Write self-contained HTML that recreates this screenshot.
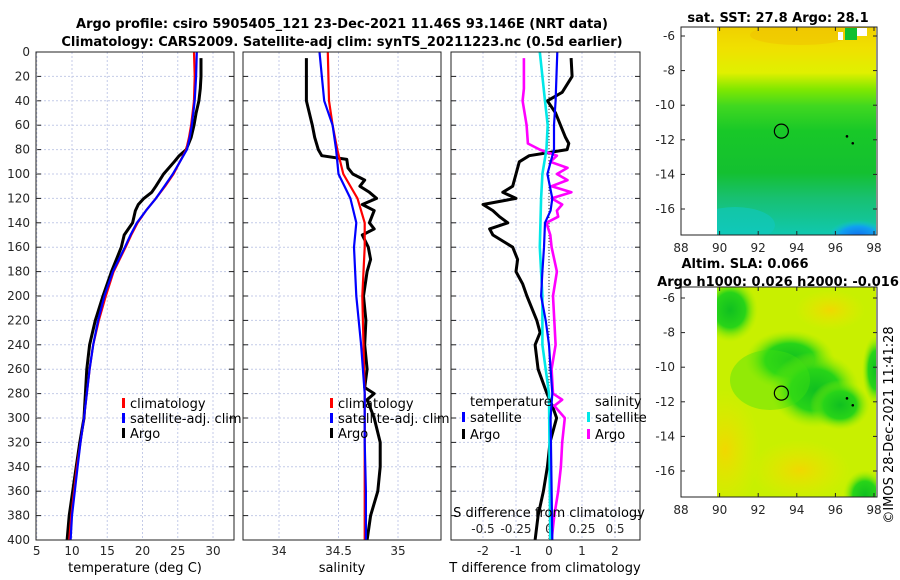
<!DOCTYPE html>
<html><head><meta charset="utf-8"><style>
html,body{margin:0;padding:0;background:#fff;}
svg{display:block;font-family:"DejaVu Sans","Liberation Sans",sans-serif;}
.tk{font-size:12px;fill:#262626;}
.ttl{font-size:13px;font-weight:bold;fill:#000;}
.lg{font-size:13px;fill:#000;}
</style></head><body>
<svg id="fig" width="900" height="580" viewBox="0 0 900 580">
<defs>
<clipPath id="clip1"><rect x="717" y="27" width="159" height="208"/></clipPath>
<clipPath id="clip2"><rect x="717" y="287" width="159" height="210"/></clipPath>
<linearGradient id="sstg" x1="0" y1="0" x2="0" y2="1">
<stop offset="0" stop-color="#f0d000"/><stop offset="0.1" stop-color="#f0e000"/><stop offset="0.22" stop-color="#e0f000"/>
<stop offset="0.3" stop-color="#80e800"/><stop offset="0.38" stop-color="#40d820"/><stop offset="0.5" stop-color="#18c828"/>
<stop offset="0.7" stop-color="#14c030"/><stop offset="0.82" stop-color="#18c070"/><stop offset="1" stop-color="#10c8b0"/>
</linearGradient>
<radialGradient id="blueb" cx="0.5" cy="0.5" r="0.5"><stop offset="0" stop-color="#1070f0"/><stop offset="0.6" stop-color="#10a0f0"/><stop offset="1" stop-color="#10c8d0" stop-opacity="0"/></radialGradient>
<radialGradient id="grb" cx="0.5" cy="0.5" r="0.5"><stop offset="0" stop-color="#10c020"/><stop offset="0.55" stop-color="#28d418"/><stop offset="1" stop-color="#a0ee00" stop-opacity="0"/></radialGradient>
<radialGradient id="orb" cx="0.5" cy="0.5" r="0.5"><stop offset="0" stop-color="#f0d800"/><stop offset="1" stop-color="#e8e800" stop-opacity="0"/></radialGradient>
</defs>
<g id="profiles"></g>
<g id="maps"></g>
</svg>
<script>
// ---- data ----
const tDepth=[0,20,40,50,60,70,80,90,100,110,120,130,140,150,160,180,200,220,240,260,280,300,320,340,360,380,400];
const climT=[27.3,27.4,27.3,27.1,26.9,26.6,26.2,25.3,24.4,23.2,21.9,20.5,19.3,18.4,17.6,15.9,14.8,13.8,13.0,12.5,12.1,11.7,11.2,10.7,10.3,9.9,9.6];
const satT=[27.7,27.6,27.4,27.2,27.0,26.7,26.3,25.3,24.3,23.1,21.9,20.5,19.2,18.3,17.5,15.8,14.6,13.7,13.0,12.5,12.1,11.7,11.2,10.8,10.4,10.0,9.8];
const argoTDepth=[5,20,30,40,50,60,70,80,85,90,100,110,115,120,125,130,140,145,150,160,170,180,200,220,240,260,280,300,320,340,360,380,400];
const argoT=[28.3,28.3,28.2,28.0,27.6,27.3,26.9,26.2,25.2,24.5,23.0,21.9,21.3,20.2,19.4,19.0,18.6,18.0,17.4,17.0,16.3,15.6,14.4,13.3,12.5,12.1,11.9,11.7,11.1,10.6,10.1,9.6,9.3];
const sDepth=[0,40,60,80,100,120,140,160,200,240,280,320,360,400];
const climS=[34.41,34.42,34.45,34.49,34.54,34.66,34.72,34.72,34.70,34.71,34.72,34.72,34.72,34.72];
const satS=[34.34,34.38,34.45,34.48,34.50,34.60,34.65,34.63,34.65,34.69,34.72,34.72,34.73,34.73];
const argoSDepth=[5,40,60,70,80,85,88,95,100,105,110,115,120,125,130,140,145,150,160,170,180,200,220,240,260,275,280,285,300,320,340,360,380,400];
const argoS=[34.23,34.23,34.28,34.30,34.33,34.36,34.57,34.58,34.62,34.72,34.68,34.76,34.82,34.70,34.80,34.76,34.80,34.70,34.75,34.77,34.74,34.71,34.73,34.72,34.74,34.72,34.80,34.74,34.80,34.85,34.85,34.83,34.77,34.74];
const dtArgoDepth=[5,20,33,40,50,60,70,75,80,85,90,100,110,115,120,125,130,135,140,145,150,160,170,180,190,200,220,230,240,260,280,290,300,320,340,360,380,400];
const dtArgo=[0.67,0.7,0.4,-0.05,0.2,0.35,0.5,0.6,0.55,-0.6,-0.9,-1.0,-1.1,-1.4,-1.0,-2.0,-1.7,-1.5,-1.25,-1.8,-1.7,-1.1,-0.95,-1.0,-0.8,-0.67,-0.37,-0.27,-0.42,-0.33,-0.06,0.1,0.23,0.03,-0.05,-0.17,-0.33,-0.42];
const dtSatDepth=[0,40,60,80,100,120,130,140,160,180,200,220,240,260,280,300,400];
const dtSat=[0.25,0.2,0.15,0.15,-0.05,0.1,0.05,-0.12,-0.15,-0.2,-0.24,-0.1,0,0.05,0.1,0.05,0.1];
const dsSatDepth=[0,40,60,80,100,120,160,200,240,280,400];
const dsSat=[-0.07,-0.03,-0.01,-0.02,-0.05,-0.06,-0.07,-0.05,-0.05,0,0.01];
const dsArgoDepth=[5,30,40,60,75,80,85,90,95,100,105,110,115,120,125,130,135,140,150,160,180,200,220,240,260,280,285,290,300,320,340,360,380,400];
const dsArgo=[-0.19,-0.19,-0.2,-0.17,-0.16,-0.07,0.06,0.01,0.14,0.06,0.14,0.02,0.17,0.02,0.1,0.06,0.07,-0.02,0.01,0.02,0.06,0.03,0.04,0.05,0.02,0.03,0.1,0.04,0.12,0.1,0.09,0.07,0.04,0.02];
const depthTicks=[0,20,40,60,80,100,120,140,160,180,200,220,240,260,280,300,320,340,360,380,400];
const tTicks=[5,10,15,20,25,30];
const sTicks=[34,34.5,35];
const dtTicks=[-2,-1,0,1,2];
const dsTicks=[-0.5,-0.25,0,0.25,0.5];
const dsTickLabels=["-0.5","-0.25","0","0.25","0.5"];
const latTicks=[-6,-8,-10,-12,-14,-16];
const lonTicks=[88,90,92,94,96,98];
const argoLon=93.2, argoLat=-11.5;
const dotLon=[96.6,96.9], dotLat=[-11.8,-12.2];

// ---- axes ----
const yD=d=>52+d*488/400;
const xT=t=>72+(t-10)*7.05;
const xS=s=>279+(s-34)*119;
const xDT=v=>549+v*33;
const xDS=v=>549+v*132;
const mx=lon=>681+(lon-88)*19.3;
const my1=lat=>36+(-6-lat)*17.3;
const my2=lat=>298+(-6-lat)*17.3;
const NS="http://www.w3.org/2000/svg";
const P=document.getElementById('profiles');
const M=document.getElementById('maps');
function mk(tag,attrs,parent,txt){const e=document.createElementNS(NS,tag);for(const k in attrs)e.setAttribute(k,attrs[k]);if(txt!==undefined)e.textContent=txt;parent.appendChild(e);return e;}

const panels=[{x0:36,x1:234,name:'temperature-panel'},{x0:243,x1:441,name:'salinity-panel'},{x0:451,x1:640,name:'difference-panel'}];
const T0=52,B0=540;
panels.forEach((p,i)=>{
  const g=mk('g',{},P);
  
  
  depthTicks.forEach(d=>{
    const l=mk('line',{x1:p.x0,x2:p.x1,y1:yD(d),y2:yD(d),stroke:'#c4cbe8','stroke-width':1,'stroke-dasharray':'2,2'},g);
    
    
    mk('line',{x1:p.x0,x2:p.x0+5,y1:yD(d),y2:yD(d),stroke:'#222'},g);
    mk('line',{x1:p.x1-5,x2:p.x1,y1:yD(d),y2:yD(d),stroke:'#222'},g);
  });
  let xt=i==0?tTicks.map(xT):i==1?sTicks.map(xS):dtTicks.map(xDT);
  xt.forEach(x=>{
    const l=mk('line',{x1:x,x2:x,y1:T0,y2:B0,stroke:'#c4cbe8','stroke-width':1,'stroke-dasharray':'2,2'},g);
    
    
  });
});
depthTicks.forEach(d=>{const t=mk('text',{x:30,y:yD(d)+4,'text-anchor':'end',class:'tk'},P,String(d));
  });
tTicks.forEach(v=>{const t=mk('text',{x:xT(v),y:555,'text-anchor':'middle',class:'tk'},P,String(v));
  });
sTicks.forEach(v=>{const t=mk('text',{x:xS(v),y:555,'text-anchor':'middle',class:'tk'},P,String(v));
  });
dtTicks.forEach(v=>{const t=mk('text',{x:xDT(v),y:555,'text-anchor':'middle',class:'tk'},P,String(v));
  });
dsTicks.forEach((v,i)=>{const t=mk('text',{x:xDS(v),y:533,'text-anchor':'middle',class:'tk'},P,dsTickLabels[i]);
  });
const zl=mk('line',{x1:xDT(0),x2:xDT(0),y1:T0,y2:B0,stroke:'#333','stroke-width':1,'stroke-dasharray':'1,2'},P);



function series(xs,ds,fx,color,w,name){
  const pts=xs.map((v,i)=>fx(v).toFixed(1)+','+yD(ds[i]).toFixed(1)).join(' ');
  const l=mk('polyline',{points:pts,fill:'none',stroke:color,'stroke-width':w,'stroke-linejoin':'round'},P);
  
  
}
series(argoT,argoTDepth,xT,'#000',3,'argo-temperature-line');
series(climT,tDepth,xT,'#f00',2.2,'climatology-temperature-line');
series(satT,tDepth,xT,'#00f',2.2,'satellite-temperature-line');
series(argoS,argoSDepth,xS,'#000',3,'argo-salinity-line');
series(climS,sDepth,xS,'#f00',2.2,'climatology-salinity-line');
series(satS,sDepth,xS,'#00f',2.2,'satellite-salinity-line');
series(dtArgo,dtArgoDepth,xDT,'#000',3,'argo-t-diff-line');
series(dsArgo,dsArgoDepth,xDS,'#f0f',2.6,'argo-s-diff-line');
series(dsSat,dsSatDepth,xDS,'#00e8e8',2.6,'satellite-s-diff-line');
series(dtSat,dtSatDepth,xDT,'#00f',2.2,'satellite-t-diff-line');

panels.forEach(p=>{const r=mk('rect',{x:p.x0,y:T0,width:p.x1-p.x0,height:B0-T0,fill:'none',stroke:'#222','stroke-width':1},P);
  });

function leg(x,y,color,label,name){
  const g=mk('g',{},P);
  
  
  mk('rect',{x:x,y:y-10,width:3,height:10,fill:color},g);
  mk('text',{x:x+8,y:y,class:'lg'},g,label);
}
leg(122,408,'#f00','climatology','legend-climatology');
leg(122,423,'#00f','satellite-adj. clim','legend-satellite-adj');
leg(122,438,'#000','Argo','legend-argo');
leg(330,408,'#f00','climatology','legend-climatology-sal');
leg(330,423,'#00f','satellite-adj. clim','legend-satellite-adj-sal');
leg(330,438,'#000','Argo','legend-argo-sal');
let tl=mk('text',{x:470,y:406,class:'lg'},P,'temperature');
let sl=mk('text',{x:595,y:406,class:'lg'},P,'salinity');
leg(462,422,'#00f','satellite','legend-t-satellite');
leg(462,439,'#000','Argo','legend-t-argo');
leg(587,422,'#00e8e8','satellite','legend-s-satellite');
leg(587,439,'#f0f','Argo','legend-s-argo');

function txt(x,y,s,cls,anchor,name,par){const t=mk('text',{x:x,y:y,class:cls,'text-anchor':anchor},par||P,s);
  return t;}
txt(135,572,'temperature (deg C)','lg','middle','x-axis-title-temperature');
txt(342,572,'salinity','lg','middle','x-axis-title-salinity');
txt(545,572,'T difference from climatology','lg','middle','x-axis-title-t-diff');
txt(549,517,'S difference from climatology','lg','middle','x-axis-title-s-diff');
txt(342,28,'Argo profile: csiro 5905405_121 23-Dec-2021 11.46S 93.146E (NRT data)','ttl','middle','title-line-1');
txt(342,46,'Climatology: CARS2009. Satellite-adj clim: synTS_20211223.nc (0.5d earlier)','ttl','middle','title-line-2');

// ---- maps ----
function mapAxes(my,top,bot,name,fill){
  const g=mk('g',{},M);
  
  
  fill(g);
  const c=mk('circle',{cx:mx(argoLon),cy:my(argoLat),r:7,fill:'none',stroke:'#000','stroke-width':1.2},g);
  
  
  dotLon.forEach((lo,i)=>mk('circle',{cx:mx(lo),cy:my(dotLat[i]),r:1.3,fill:'#000'},g));
  mk('rect',{x:681,y:top,width:196,height:bot-top,fill:'none',stroke:'#222'},g);
  latTicks.forEach(la=>{
    mk('line',{x1:681,x2:685,y1:my(la),y2:my(la),stroke:'#222'},g);
    mk('line',{x1:873,x2:877,y1:my(la),y2:my(la),stroke:'#222'},g);
    txt(675,my(la)+4,String(la),'tk','end','latitude-tick-label',g);
  });
  lonTicks.forEach(lo=>{
    mk('line',{x1:mx(lo),x2:mx(lo),y1:bot-4,y2:bot,stroke:'#222'},g);
    mk('line',{x1:mx(lo),x2:mx(lo),y1:top,y2:top+4,stroke:'#222'},g);
    txt(mx(lo),bot+17,String(lo),'tk','middle','longitude-tick-label',g);
  });
}
mapAxes(my1,27,235,'sst-map',g=>{
  const cg=mk('g',{'clip-path':'url(#clip1)'},g);
  mk('rect',{x:717,y:27,width:159,height:208,fill:'url(#sstg)'},cg);
  mk('ellipse',{cx:735,cy:225,rx:40,ry:18,fill:'#10c8c0',opacity:0.6},cg);
  mk('ellipse',{cx:858,cy:236,rx:30,ry:16,fill:'url(#blueb)'},cg);
  mk('ellipse',{cx:800,cy:35,rx:50,ry:10,fill:'#f0c000',opacity:0.5},cg);
  mk('rect',{x:845,y:28,width:12,height:12,fill:'#10c030'},cg);
  mk('rect',{x:857,y:28,width:10,height:8,fill:'#fff'},cg);
  mk('rect',{x:838,y:32,width:5,height:8,fill:'#fff'},cg);
});
mapAxes(my2,287,497,'sla-map',g=>{
  const cg=mk('g',{'clip-path':'url(#clip2)'},g);
  mk('rect',{x:717,y:287,width:159,height:210,fill:'#c8f000'},cg);
  mk('ellipse',{cx:725,cy:450,rx:35,ry:60,fill:'url(#orb)'},cg);
  mk('ellipse',{cx:800,cy:470,rx:50,ry:30,fill:'url(#orb)'},cg);
  mk('ellipse',{cx:830,cy:310,rx:35,ry:20,fill:'url(#orb)'},cg);
  mk('ellipse',{cx:730,cy:310,rx:28,ry:32,fill:'url(#grb)'},cg);
  mk('ellipse',{cx:790,cy:360,rx:45,ry:30,fill:'url(#grb)'},cg);
  mk('ellipse',{cx:815,cy:390,rx:45,ry:38,fill:'url(#grb)'},cg);
  mk('ellipse',{cx:840,cy:405,rx:30,ry:25,fill:'url(#grb)'},cg);
  mk('ellipse',{cx:770,cy:380,rx:40,ry:30,fill:'#40e010',opacity:0.4},cg);
  mk('ellipse',{cx:876,cy:370,rx:14,ry:35,fill:'url(#grb)'},cg);
  mk('ellipse',{cx:865,cy:495,rx:22,ry:25,fill:'url(#grb)'},cg);
});
txt(778,22,'sat. SST: 27.8 Argo: 28.1','ttl','middle','sst-map-title');
txt(745,268,'Altim. SLA: 0.066','ttl','middle','sla-map-title');
txt(778,286,'Argo h1000: 0.026 h2000: -0.016','ttl','middle','sla-map-subtitle');
const cp=txt(0,0,'©IMOS 28-Dec-2021 11:41:28','lg','middle','copyright-timestamp');
cp.setAttribute('transform','translate(893,425) rotate(-90)');
</script>
</body></html>
